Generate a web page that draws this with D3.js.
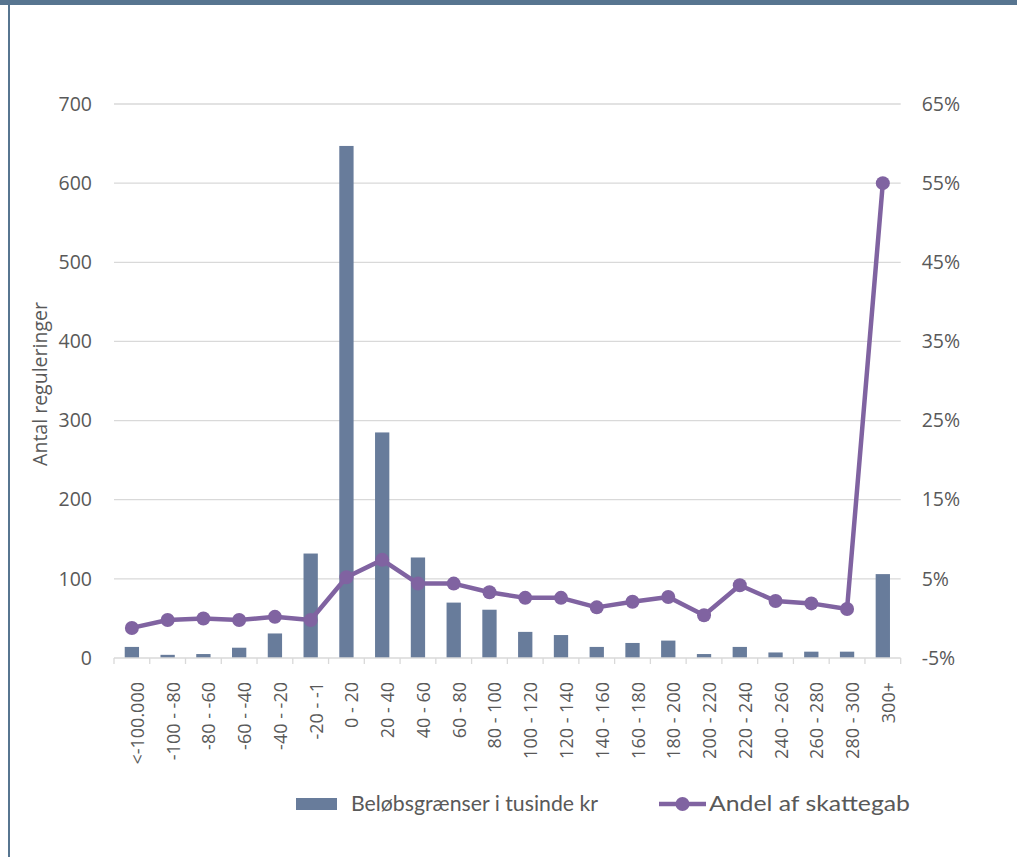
<!DOCTYPE html>
<html>
<head>
<meta charset="utf-8">
<script src="https://cdn.jsdelivr.net/npm/d3@7"></script>
<style>
  html, body { margin: 0; padding: 0; background: #fff; }
  svg { display: block; }
</style>
</head>
<body>
<svg id="chart" width="1017" height="857"></svg>
<script>
const categories = ["<-100.000", "-100 - -80", "-80 - -60", "-60 - -40", "-40 - -20", "-20 - -1",
  "0 - 20", "20 - 40", "40 - 60", "60 - 80", "80 - 100", "100 - 120", "120 - 140", "140 - 160",
  "160 - 180", "180 - 200", "200 - 220", "220 - 240", "240 - 260", "260 - 280", "280 - 300", "300+"];
const barValues = [14, 4, 5, 13, 31, 132, 647, 285, 127, 70, 61, 33, 29, 14, 19, 22, 5, 14, 7, 8, 8, 106];
const lineValues = [-0.012, -0.002, 0.000, -0.002, 0.002, -0.002, 0.052, 0.074, 0.044, 0.044, 0.033,
  0.026, 0.026, 0.014, 0.021, 0.027, 0.004, 0.042, 0.022, 0.019, 0.012, 0.55];
const leftTicks = [0, 100, 200, 300, 400, 500, 600, 700];
const rightTicks = [-0.05, 0.05, 0.15, 0.25, 0.35, 0.45, 0.55, 0.65];
const barName = "Beløbsgrænser i tusinde kr";
const lineName = "Andel af skattegab";
const yTitle = "Antal reguleringer";

const svg = d3.select("#chart");
const W = 1017, H = 857;
const x0 = 114, x1 = 900.7, yTop = 104, yBot = 658;
const barColor = "#687c9b", lineColor = "#8063a1", gridColor = "#d9d9d9", textColor = "#595959";
const font = "'Open Sans', sans-serif";

// frame
svg.append("rect").attr("x", 0).attr("y", 0).attr("width", W).attr("height", 5).attr("fill", "#577590");
svg.append("rect").attr("x", 8).attr("y", 0).attr("width", 2).attr("height", H).attr("fill", "#577590");

const xb = d3.scaleBand().domain(categories).range([x0, x1]).paddingInner(0.6).paddingOuter(0.3);
const xs = d3.scaleBand().domain(categories).range([x0, x1]).padding(0);
const yL = d3.scaleLinear().domain([0, 700]).range([yBot, yTop]);
const yR = d3.scaleLinear().domain([-0.05, 0.65]).range([yBot, yTop]);

// grid
svg.append("g").selectAll("line").data(leftTicks.filter(d => d > 0)).join("line")
  .attr("x1", x0).attr("x2", x1).attr("y1", d => yL(d)).attr("y2", d => yL(d))
  .attr("stroke", gridColor).attr("stroke-width", 1.3);

// left axis labels
const gL = svg.append("g").attr("transform", `translate(${x0},0)`)
  .call(d3.axisLeft(yL).tickValues(leftTicks).tickSize(0).tickPadding(22));
gL.select(".domain").remove();
gL.selectAll("text").attr("font-family", font).attr("font-size", 19.5).attr("fill", textColor);

// right axis labels
const gR = svg.append("g").attr("transform", `translate(${x1},0)`)
  .call(d3.axisRight(yR).tickValues(rightTicks).tickSize(0).tickPadding(21));
gR.select(".domain").remove();
gR.selectAll("text").attr("font-family", font).attr("font-size", 19.5).attr("fill", textColor)
  .text(d => Math.round(d * 100) + "%");

// bars
svg.append("g").selectAll("rect").data(categories).join("rect")
  .attr("x", d => xb(d)).attr("width", xb.bandwidth())
  .attr("y", (d, i) => yL(barValues[i])).attr("height", (d, i) => yBot - yL(barValues[i]))
  .attr("fill", barColor);

// bottom axis line + ticks
svg.append("line").attr("x1", x0).attr("x2", x1).attr("y1", yBot).attr("y2", yBot)
  .attr("stroke", gridColor).attr("stroke-width", 1.3);
const bounds = categories.map(c => xs(c)).concat([x1]);
svg.append("g").selectAll("line").data(bounds).join("line")
  .attr("x1", d => d).attr("x2", d => d).attr("y1", yBot).attr("y2", yBot + 6)
  .attr("stroke", gridColor).attr("stroke-width", 1.3);

// x labels
svg.append("g").selectAll("text").data(categories).join("text")
  .attr("transform", d => `translate(${xs(d) + xs.bandwidth() / 2 + 12},682) rotate(-90)`)
  .attr("text-anchor", "end").attr("font-family", font).attr("font-size", 18).attr("fill", textColor)
  .text(d => d);

// line
const cx = (d, i) => xs(categories[i]) + xs.bandwidth() / 2;
svg.append("path").datum(lineValues)
  .attr("d", d3.line().x((d, i) => cx(d, i)).y(d => yR(d)))
  .attr("fill", "none").attr("stroke", lineColor).attr("stroke-width", 4.5).attr("stroke-linejoin", "round");
svg.append("g").selectAll("circle").data(lineValues).join("circle")
  .attr("cx", (d, i) => cx(d, i)).attr("cy", d => yR(d)).attr("r", 7).attr("fill", lineColor);

// y title
svg.append("text").attr("transform", `translate(47,384) rotate(-90)`)
  .attr("text-anchor", "middle").attr("font-family", font).attr("font-size", 19.5).attr("fill", textColor)
  .text(yTitle);

// legend
const lg = svg.append("g");
const ly = 804;
lg.append("rect").attr("x", 296).attr("y", ly - 6).attr("width", 41).attr("height", 12).attr("fill", barColor);
lg.append("text").attr("x", 351).attr("y", ly + 7).attr("font-family", "Lato, sans-serif").attr("font-size", 20.5)
  .attr("fill", textColor).attr("textLength", 247).attr("lengthAdjust", "spacingAndGlyphs").text(barName);
lg.append("line").attr("x1", 659).attr("x2", 706).attr("y1", ly).attr("y2", ly)
  .attr("stroke", lineColor).attr("stroke-width", 4.5);
lg.append("circle").attr("cx", 682.5).attr("cy", ly).attr("r", 7).attr("fill", lineColor);
lg.append("text").attr("x", 709).attr("y", ly + 7).attr("font-family", "Lato, sans-serif").attr("font-size", 20.5)
  .attr("fill", textColor).attr("textLength", 201).attr("lengthAdjust", "spacingAndGlyphs").text(lineName);
</script>
</body>
</html>
